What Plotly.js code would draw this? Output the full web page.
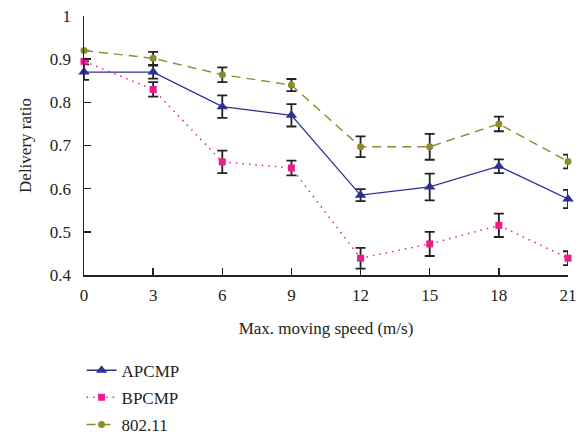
<!DOCTYPE html>
<html>
<head>
<meta charset="utf-8">
<script src="https://cdn.plot.ly/plotly-3.0.1.min.js"></script>
<style>html,body{margin:0;padding:0;background:#fff;}#chart{width:582px;height:438px;}</style>
</head>
<body>
<div id="chart"></div>
<script>
const speeds = [0, 3, 6, 9, 12, 15, 18, 21];
const apcmp = [0.870, 0.870, 0.790, 0.770, 0.585, 0.604, 0.652, 0.576];
const apcmpErr = [0.018, 0.015, 0.026, 0.026, 0.014, 0.031, 0.016, 0.021];
const bpcmp = [0.895, 0.830, 0.662, 0.648, 0.439, 0.472, 0.515, 0.439];
const bpcmpErr = [0, 0.017, 0.026, 0.017, 0.024, 0.028, 0.027, 0.016];
const ieee = [0.920, 0.902, 0.864, 0.840, 0.697, 0.697, 0.750, 0.663];
const ieeeErr = [0, 0.015, 0.017, 0.014, 0.024, 0.030, 0.017, 0.016];
const yTicks = [0.4, 0.5, 0.6, 0.7, 0.8, 0.9, 1];
const xTicks = [0, 3, 6, 9, 12, 15, 18, 21];

const font = {family: '"Liberation Serif", "DejaVu Serif", serif', size: 17, color: '#222'};
const errStyle = {type: 'data', visible: true, color: '#222', thickness: 1.8, width: 5};

function tr(name, y, err, color, dash, symbol, msize, lw) {
  return {
    x: speeds, y: y, name: name, type: 'scatter', mode: 'lines+markers',
    legendgroup: name,
    line: {color: color, dash: dash, width: lw},
    marker: {color: color, symbol: symbol, size: msize},
    error_y: Object.assign({array: err}, errStyle),
    cliponaxis: false
  };
}

const data = [
  tr('APCMP', apcmp, apcmpErr, '#2e3192', 'solid', 'triangle-up', 10, 1.3),
  tr('BPCMP', bpcmp, bpcmpErr, '#ec1c8c', '1.5px,5px', 'square', 7, 1.5),
  tr('802.11', ieee, ieeeErr, '#8c8c2c', '9px,6px', 'circle', 7, 1.4)
];

const layout = {
  width: 582, height: 438,
  margin: {l: 84, r: 14, t: 16, b: 163, autoexpand: false},
  paper_bgcolor: '#fff', plot_bgcolor: '#fff',
  font: font,
  showlegend: true,
  legend: {x: -0.005, xanchor: 'left', y: -0.30, yanchor: 'top',
           orientation: 'v', font: font, bgcolor: 'rgba(0,0,0,0)', tracegroupgap: 2},
  xaxis: {
    range: [0, 21], tickvals: xTicks, ticktext: xTicks.map(String),
    showgrid: false, zeroline: false, showline: true, linecolor: '#222', linewidth: 1.5,
    ticks: 'inside', ticklen: 7, tickwidth: 1.5, tickcolor: '#222',
    tickfont: font, ticklabelstandoff: 4,
    title: {text: 'Max. moving speed (m/s)', font: font, standoff: 18}
  },
  yaxis: {
    range: [0.4, 1], tickvals: yTicks, ticktext: ['0.4','0.5','0.6','0.7','0.8','0.9','1'],
    showgrid: false, zeroline: false, showline: true, linecolor: '#222', linewidth: 1.5,
    ticks: 'inside', ticklen: 7, tickwidth: 1.5, tickcolor: '#222',
    tickfont: font, ticklabelstandoff: 8,
    title: {text: 'Delivery ratio', font: font, standoff: 14}
  }
};

Plotly.newPlot('chart', data, layout, {displayModeBar: false, staticPlot: true});
</script>
</body>
</html>
